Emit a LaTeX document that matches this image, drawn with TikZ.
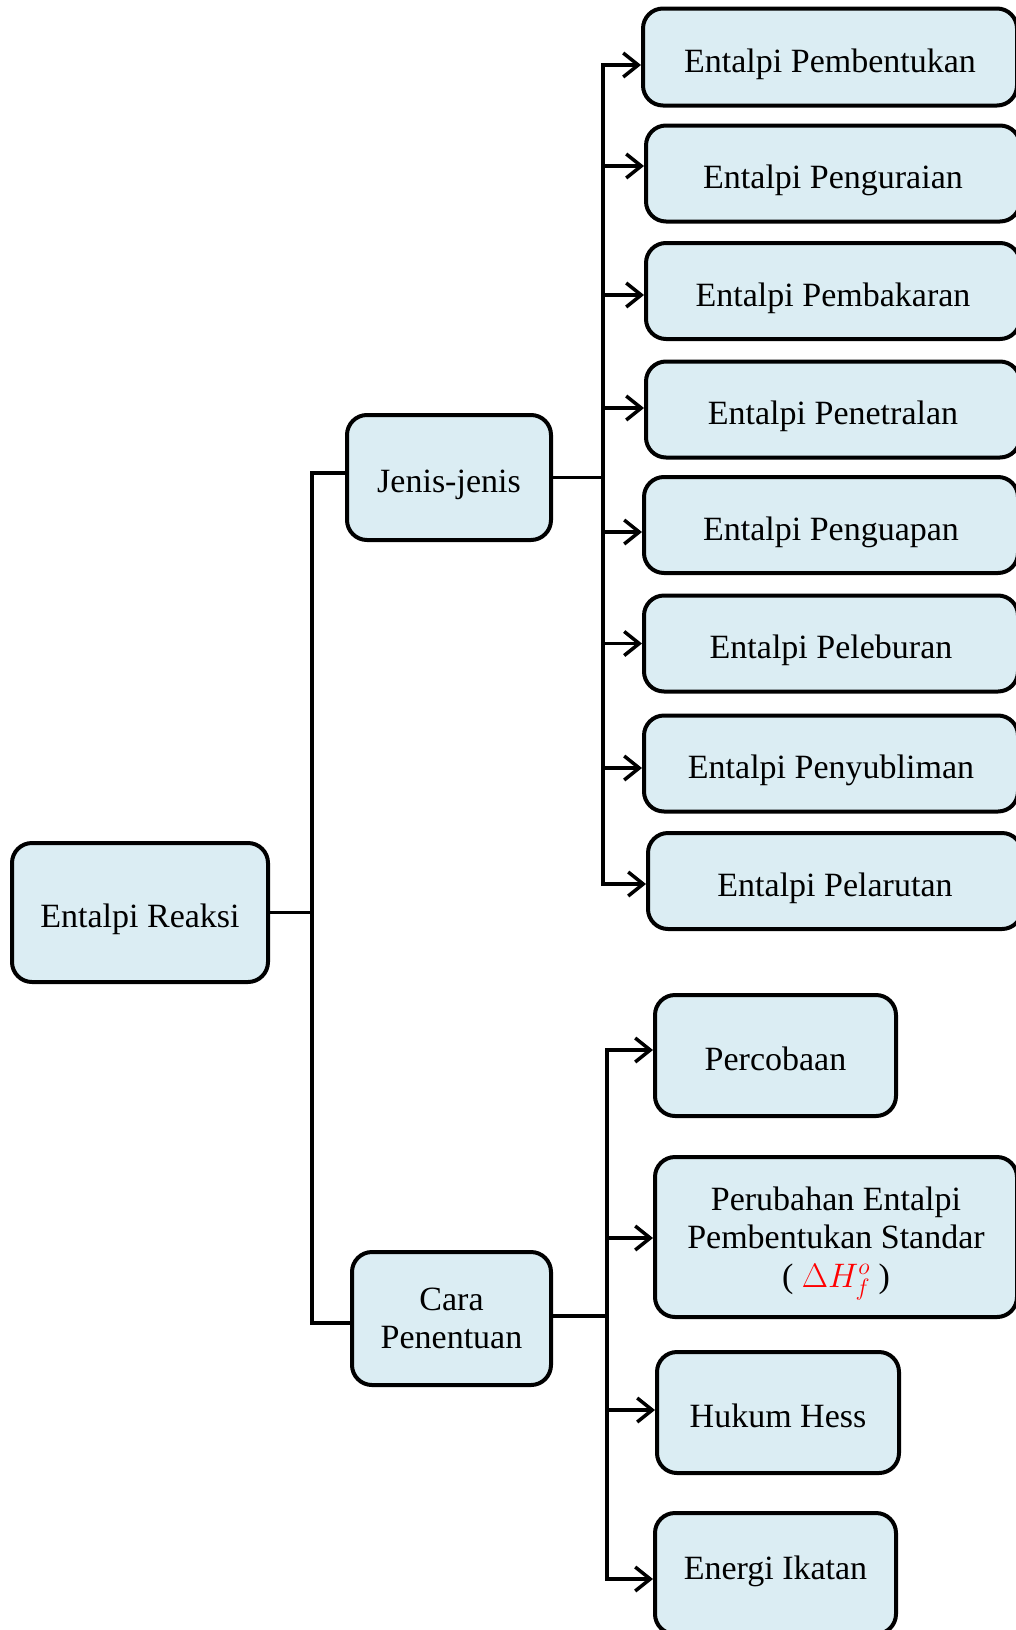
\documentclass[tikz,border=0pt]{standalone}
\usepackage{fix-cm}
\usepackage{fontspec}
\setmainfont{Liberation Serif}
\usetikzlibrary{arrows.meta}
\definecolor{kotakisi}{RGB}{219,237,243}

\begin{document}
\begin{tikzpicture}[x=1pt,y=-1pt,
  kotakdasar/.style={draw,line width=4pt,fill=kotakisi,rounded corners=20pt,align=center,inner sep=0pt,
    font=\fontsize{34}{38.5}\selectfont},
  kotak/.style={kotakdasar,text height=30pt,text depth=0pt},
  garis/.style={line width=3.5pt},
  panah/.style={garis,-{Straight Barb[length=15pt,width=24pt,line width=3.5pt]}}]
\clip (0,0) rectangle (1016,1630);

% The main boxes
\node (reaksi) at (140,912.5) [kotak,minimum width=256pt,minimum height=139pt] {Entalpi Reaksi};
\node (jenis) at (449,477.5) [kotak,minimum width=204pt,minimum height=125pt] {Jenis-jenis};
\node (cara) at (451.5,1318.5) [kotakdasar,minimum width=199pt,minimum height=133pt] {Cara\\Penentuan};

% Jenis-jenis entalpi
\node (pembentukan) at (830,57) [kotak,minimum width=374pt,minimum height=97pt] {Entalpi Pembentukan};
\node (penguraian) at (833,173.5) [kotak,minimum width=374pt,minimum height=96pt] {Entalpi Penguraian};
\node (pembakaran) at (833,291) [kotak,minimum width=374pt,minimum height=96pt] {Entalpi Pembakaran};
\node (penetralan) at (833,409.5) [kotak,minimum width=374pt,minimum height=96pt] {Entalpi Penetralan};
\node (penguapan) at (831,525) [kotak,minimum width=374pt,minimum height=96pt] {Entalpi Penguapan};
\node (peleburan) at (831,643.5) [kotak,minimum width=374pt,minimum height=96pt] {Entalpi Peleburan};
\node (penyubliman) at (831,763.5) [kotak,minimum width=374pt,minimum height=96pt] {Entalpi Penyubliman};
\node (pelarutan) at (835,881) [kotak,minimum width=374pt,minimum height=96pt] {Entalpi Pelarutan};

% Cara penentuan
\node (percobaan) at (775.5,1055.5) [kotak,minimum width=241pt,minimum height=121pt] {Percobaan};
\node (perubahan) at (836,1237) [kotakdasar,text depth=0pt,minimum width=362pt,minimum height=160pt]
  {Perubahan Entalpi\\Pembentukan Standar\\( \textcolor{red}{$\Delta H_f^o$} )};
\node (hess) at (778,1412.5) [kotak,minimum width=242pt,minimum height=121pt] {Hukum Hess};
\node (ikatan) at (775.5,1573.5) [kotak,text height=12pt,minimum width=241pt,minimum height=121pt] {Energi Ikatan};

% left branch
\coordinate (trunkA) at (312,0);
\draw[garis] (reaksi.east) -- (trunkA |- reaksi.east);
\draw[garis] ([yshift=4.5pt]jenis.west) -- ([yshift=4.5pt]trunkA |- jenis.west)
  -- ([yshift=-4.5pt]trunkA |- cara.west) -- ([yshift=-4.5pt]cara.west);

% jenis-jenis arrows
\coordinate (trunkB) at (603,0);
\draw[garis] (jenis.east) -- (trunkB |- jenis.east);
\foreach \n/\dy in {pembentukan/8,penguraian/-7.5,pembakaran/4,penetralan/-1.5,penguapan/7,peleburan/0,penyubliman/4.5,pelarutan/3}
  \draw[panah] ([yshift=-\dy pt]trunkB |- \n.west) coordinate (kiri\n) -- ([yshift=-\dy pt]\n.west);
\draw[garis,line cap=rect] (kiripembentukan) -- (kiripelarutan);

% cara penentuan arrows
\coordinate (trunkC) at (607,0);
\draw[garis] ([yshift=2.5pt]cara.east) -- ([yshift=2.5pt]trunkC |- cara.east);
\foreach \n/\dy in {percobaan/-5.5,perubahan/1,hess/-2.5,ikatan/5.5}
  \draw[panah] ([yshift=-\dy pt]trunkC |- \n.west) coordinate (kiri\n) -- ([yshift=-\dy pt]\n.west);
\draw[garis,line cap=rect] (kiripercobaan) -- (kiriikatan);

\end{tikzpicture}
\end{document}
